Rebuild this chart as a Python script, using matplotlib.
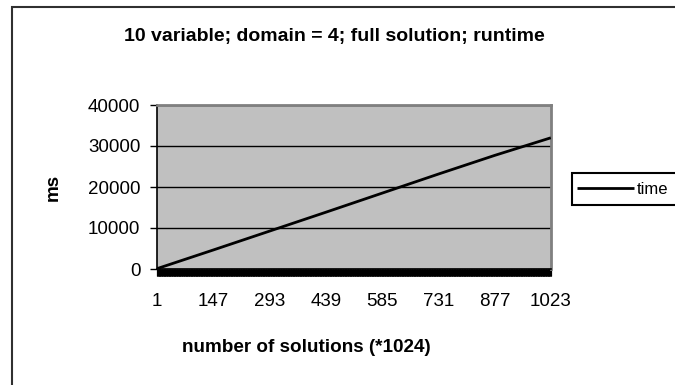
import numpy as np
import matplotlib
matplotlib.use('Agg')
import matplotlib.pyplot as plt
from matplotlib.patches import Rectangle
from matplotlib.ticker import FixedLocator, MultipleLocator

# runtime samples (ms) read at the labelled category positions
solutions = [1, 147, 293, 439, 585, 731, 877, 1023]
runtime_ms = [100, 4650, 9250, 13850, 18500, 23150, 27700, 32000]
n_categories = 1023

title = "10 variable; domain = 4; full solution; runtime"
xlabel = "number of solutions (*1024)"
ylabel = "ms"
series_name = "time"

plt.rcParams['font.family'] = ['Liberation Sans', 'DejaVu Sans']

fig = plt.figure(figsize=(6.75, 3.85), dpi=100)
W, H = 675.0, 385.0

# chart area frame (only left and top edges fall inside the image)
fig.patches.append(Rectangle((12 / W, -0.1), 1.2, 1 - 7 / H + 0.1,
                             transform=fig.transFigure, fill=False,
                             edgecolor='#303030', linewidth=1.5, zorder=0))

ax = fig.add_axes([157 / W, 1 - 269 / H, (551 - 157) / W, (269 - 105) / H])
ax.set_facecolor('#c0c0c0')

ax.plot(solutions, runtime_ms, color='black', linewidth=2.0,
        solid_capstyle='butt', label=series_name, zorder=3)

ax.set_xlim(0.5, n_categories + 0.5)
ax.set_ylim(0, 40000)

ax.yaxis.set_major_locator(MultipleLocator(10000))
ax.grid(axis='y', color='black', linewidth=1.0)
ax.set_axisbelow(True)

ax.xaxis.set_major_locator(FixedLocator(solutions))
ax.xaxis.set_minor_locator(FixedLocator(np.arange(0.5, n_categories + 1, 1.0)))
ax.tick_params(axis='x', which='major', length=0, pad=17, labelsize=13.5)
ax.tick_params(axis='x', which='minor', length=5, width=0.8, color='black')
ax.tick_params(axis='y', length=5, width=1, pad=7, labelsize=13.5)

for side in ('top', 'right'):
    ax.spines[side].set_color('#808080')
    ax.spines[side].set_linewidth(2)
for side in ('left', 'bottom'):
    ax.spines[side].set_color('black')
    ax.spines[side].set_linewidth(1.2)

fig.text(334 / W, 1 - 37 / H, title, ha='center', va='center',
         fontsize=14, fontweight='bold')
fig.text(306 / W, 1 - 347 / H, xlabel, ha='center', va='center',
         fontsize=13.6, fontweight='bold')
fig.text(53 / W, 1 - 187 / H, ylabel, ha='center', va='center',
         fontsize=13.6, fontweight='bold', rotation=90)

# legend box runs off the right edge, so its frame is drawn separately
fig.patches.append(Rectangle((572 / W, 1 - 205 / H), 0.3, 32 / H,
                             transform=fig.transFigure, facecolor='white',
                             edgecolor='black', linewidth=1.5, zorder=4))
handles, labels = ax.get_legend_handles_labels()
leg = fig.legend(handles, labels, loc='center left',
                 bbox_to_anchor=(572 / W, 1 - 189 / H), frameon=False,
                 fontsize=12, handlelength=3.4, handletextpad=0.2,
                 borderpad=0.3, borderaxespad=0)
leg.set_zorder(5)

fig.savefig('out.png', dpi=100)
